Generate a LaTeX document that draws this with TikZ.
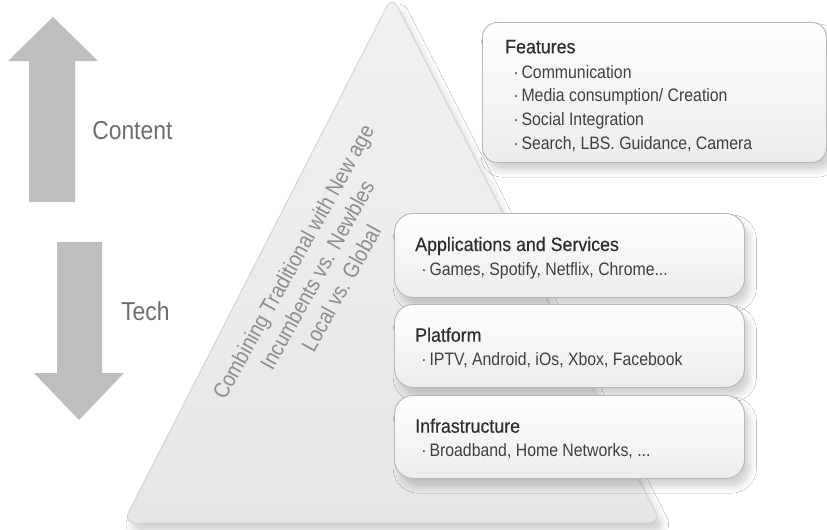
\documentclass[tikz,border=0pt]{standalone}
\usepackage{fontspec}
\setmainfont{Liberation Sans}
\newfontfamily\condfont[FakeStretch=0.88]{Liberation Sans}
\newfontfamily\headfont[FakeStretch=0.92,FakeBold=0.4]{Liberation Sans}
\usetikzlibrary{shadows.blur}

\definecolor{arrowgray}{HTML}{BCBEC0}
\definecolor{sidelabel}{HTML}{6D6E71}
\definecolor{slanttext}{HTML}{8C8D8F}
\definecolor{pyramidline}{HTML}{CFD0D2}
\definecolor{pyramidtop}{HTML}{F1F1F2}
\definecolor{pyramidbottom}{HTML}{E6E6E7}
\definecolor{boxline}{HTML}{B7B8BA}
\definecolor{boxbottom}{HTML}{ECECED}
\definecolor{headtext}{HTML}{2E2E30}
\definecolor{itemtext}{HTML}{404042}

\begin{document}
% one unit = one pixel; y runs downward as negative values
\begin{tikzpicture}[x=0.75pt,y=0.75pt,
  softshadow/.style={blur shadow={shadow xshift=4pt, shadow yshift=-6pt,
      shadow blur radius=5pt, shadow opacity=18}},
  layerbox/.style={rounded corners=14pt, draw=boxline, line width=0.7pt,
      top color=white, bottom color=boxbottom, softshadow,
      anchor=north west, inner sep=0pt},
  headline/.style={anchor=base west, inner sep=0pt, text=headtext,
      font=\headfont\fontsize{14.5}{16}\selectfont},
  itemline/.style={anchor=base west, inner sep=0pt, text=itemtext,
      font=\condfont\fontsize{13.5}{16}\selectfont},
  sidelabeltext/.style={anchor=base west, inner sep=0pt, text=sidelabel,
      font=\condfont\fontsize{19.5}{22}\selectfont},
]
\useasboundingbox[fill=white] (0,0) rectangle (827,-529);

% direction arrows on the left
\fill[arrowgray] (53,-17) -- (98,-61) -- (75,-61) -- (75,-202) -- (29,-202)
  -- (29,-61) -- (8,-61) -- cycle;
\fill[arrowgray] (57,-242) -- (102,-242) -- (102,-373) -- (124,-373) -- (79,-420)
  -- (34,-373) -- (57,-373) -- cycle;
\node[sidelabeltext] (content) at (92,-139) {Content};
\node[sidelabeltext] (tech) at (121,-320) {Tech};

% pyramid
\path[draw=pyramidline, line width=0.6pt, rounded corners=9pt,
  top color=pyramidtop, bottom color=pyramidbottom, softshadow]
  (392,4) -- (661,-523) -- (123,-523) -- cycle;

\node[rotate=61, align=center, text=slanttext, inner sep=0pt,
  font=\condfont\fontsize{16.5}{20.5}\selectfont] (tension) at (317,-275)
  {Combining Traditional with New age\\Incumbents vs. Newbles\\Local vs. Global};

% feature list
\node[layerbox, rounded corners=11pt, minimum width=258pt, minimum height=105pt]
  (features) at (482,-22) {};
\node[headline] (featuresT) at (505,-53.3) {Features};
\node[itemline] (feat1) at (513,-78.3) {·\,Communication};
\node[itemline] (feat2) at (513,-101.7) {·\,Media consumption/ Creation};
\node[itemline] (feat3) at (513,-125) {·\,Social Integration};
\node[itemline] (feat4) at (513,-149) {·\,Search, LBS. Guidance, Camera};

% stack layers
\node[layerbox, minimum width=262.5pt, minimum height=63pt] (apps) at (394,-213) {};
\node[headline] (appsT) at (415,-251) {Applications and Services};
\node[itemline] (appsI) at (421,-275) {·\,Games, Spotify, Netflix, Chrome...};

\node[layerbox, minimum width=262.5pt, minimum height=62.25pt] (platform) at (394,-304) {};
\node[headline] (platformT) at (415,-341.7) {Platform};
\node[itemline] (platformI) at (421,-365.7) {·\,IPTV, Android, iOs, Xbox, Facebook};

\node[layerbox, minimum width=262.5pt, minimum height=62.25pt] (infra) at (394,-395) {};
\node[headline] (infraT) at (415,-432.7) {Infrastructure};
\node[itemline] (infraI) at (421,-456.7) {·\,Broadband, Home Networks, ...};
\end{tikzpicture}
\end{document}
